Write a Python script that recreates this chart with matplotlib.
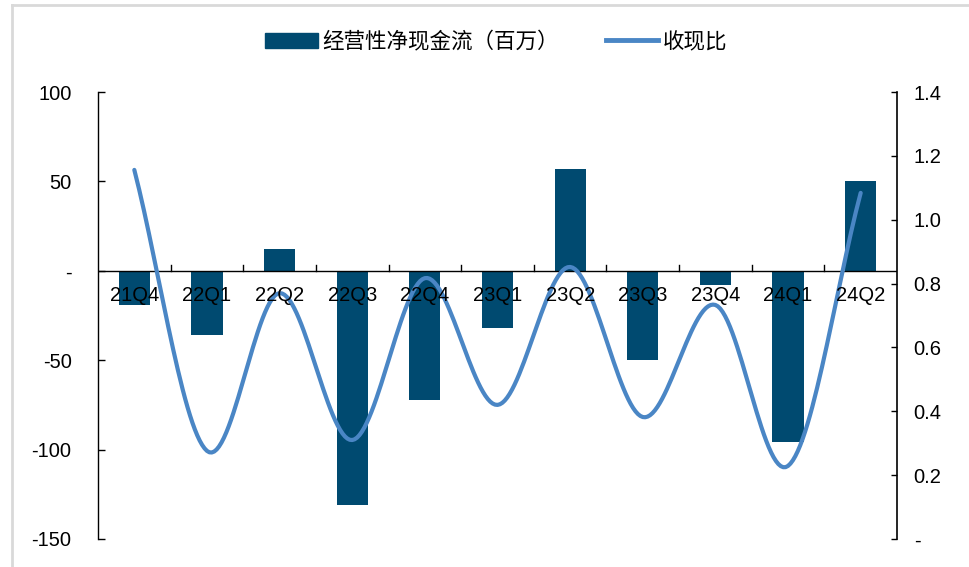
import numpy as np
import matplotlib
matplotlib.use("Agg")
import matplotlib.pyplot as plt
from matplotlib.lines import Line2D
import matplotlib.transforms as mtrans

plt.rcParams['font.family'] = ['Liberation Sans', 'Noto Sans CJK SC', 'DejaVu Sans']

categories = ['21Q4', '22Q1', '22Q2', '22Q3', '22Q4', '23Q1', '23Q2', '23Q3', '23Q4', '24Q1', '24Q2']
cash_flow = [-19, -36, 12, -131, -72, -32, 57, -50, -8, -96, 50]
ratio = [1.156, 0.276, 0.77, 0.31, 0.817, 0.42, 0.852, 0.382, 0.733, 0.229, 1.084]
left_ticks = [100, 50, 0, -50, -100, -150]
left_labels = ['100', '50', '-', '-50', '-100', '-150']
right_ticks = [1.4, 1.2, 1.0, 0.8, 0.6, 0.4, 0.2, 0.0]
right_labels = ['1.4', '1.2', '1.0', '0.8', '0.6', '0.4', '0.2', '-']

bar_color = '#004A70'
line_color = '#4A86C5'
FS = 14.5


def catmull_rom(x, y, n=30):
    x = np.asarray(x, float)
    y = np.asarray(y, float)
    px = np.concatenate([[2 * x[0] - x[1]], x, [2 * x[-1] - x[-2]]])
    py = np.concatenate([[2 * y[0] - y[1]], y, [2 * y[-1] - y[-2]]])
    xs, ys = [], []
    for i in range(1, len(px) - 2):
        t = np.linspace(0, 1, n, endpoint=False)
        for arr, out in ((px, xs), (py, ys)):
            p0, p1, p2, p3 = arr[i - 1], arr[i], arr[i + 1], arr[i + 2]
            out.extend(0.5 * ((2 * p1) + (-p0 + p2) * t +
                              (2 * p0 - 5 * p1 + 4 * p2 - p3) * t ** 2 +
                              (-p0 + 3 * p1 - 3 * p2 + p3) * t ** 3))
    xs.append(x[-1])
    ys.append(y[-1])
    return np.array(xs), np.array(ys)


fig = plt.figure(figsize=(9.69, 5.67), dpi=100)
ax = fig.add_axes([98 / 969, 28 / 567, 799 / 969, 447 / 567])
x = np.arange(len(categories))
ax.bar(x, cash_flow, width=0.43, color=bar_color, zorder=2)
ax.set_xlim(-0.5, len(categories) - 0.5)
ax.set_ylim(-150, 100)
ax.set_yticks(left_ticks)
ax.set_yticklabels(left_labels)
ax.tick_params(axis='y', direction='in', length=5, width=1, labelsize=FS, pad=19, colors='black')
for s in ['top', 'right', 'bottom']:
    ax.spines[s].set_visible(False)
ax.spines['left'].set_linewidth(1)
ax.set_xticks([])
ax.axhline(0, color='black', lw=1, zorder=3)
for b in np.arange(0.5, len(categories) - 0.5, 1.0):
    ax.plot([b, b], [0, 3], color='black', lw=1, zorder=3)

ax2 = ax.twinx()
ax2.set_ylim(0, 1.4)
ax2.set_yticks(right_ticks)
ax2.set_yticklabels(right_labels)
ax2.tick_params(axis='y', direction='in', length=4, width=1, labelsize=FS, pad=12, colors='black')
for s in ['top', 'left', 'bottom']:
    ax2.spines[s].set_visible(False)
ax2.spines['right'].set_linewidth(1.2)
sx, sy = catmull_rom(x, ratio)
ax2.plot(sx, sy, color=line_color, lw=3, solid_capstyle='round', zorder=4)

tr = mtrans.blended_transform_factory(ax.transData, ax.transData)
for xi, c in zip(x, categories):
    ax2.text(xi, -14, c, ha='center', va='center', fontsize=FS, color='black',
             transform=tr, zorder=6)

handles = [plt.Rectangle((0, 0), 1, 1, color=bar_color),
           Line2D([0], [0], color=line_color, lw=3.5)]
fig.legend(handles, ['经营性净现金流（百万）', '收现比'], loc='center', bbox_to_anchor=(496 / 969, 1 - 42 / 567),
           ncol=2, frameon=False, handlelength=2.45, handleheight=0.7, columnspacing=2.2, handletextpad=0.2,
           prop={'family': ['Noto Sans CJK SC'], 'size': 15.5})

fig.add_artist(Line2D([11.5 / 969, 11.5 / 969], [0, 1 - 5 / 567], color='#D9D9D9', lw=2, transform=fig.transFigure))
fig.add_artist(Line2D([11.5 / 969, 1], [1 - 5 / 567, 1 - 5 / 567], color='#D9D9D9', lw=2, transform=fig.transFigure))

fig.savefig('out.png', dpi=100)
